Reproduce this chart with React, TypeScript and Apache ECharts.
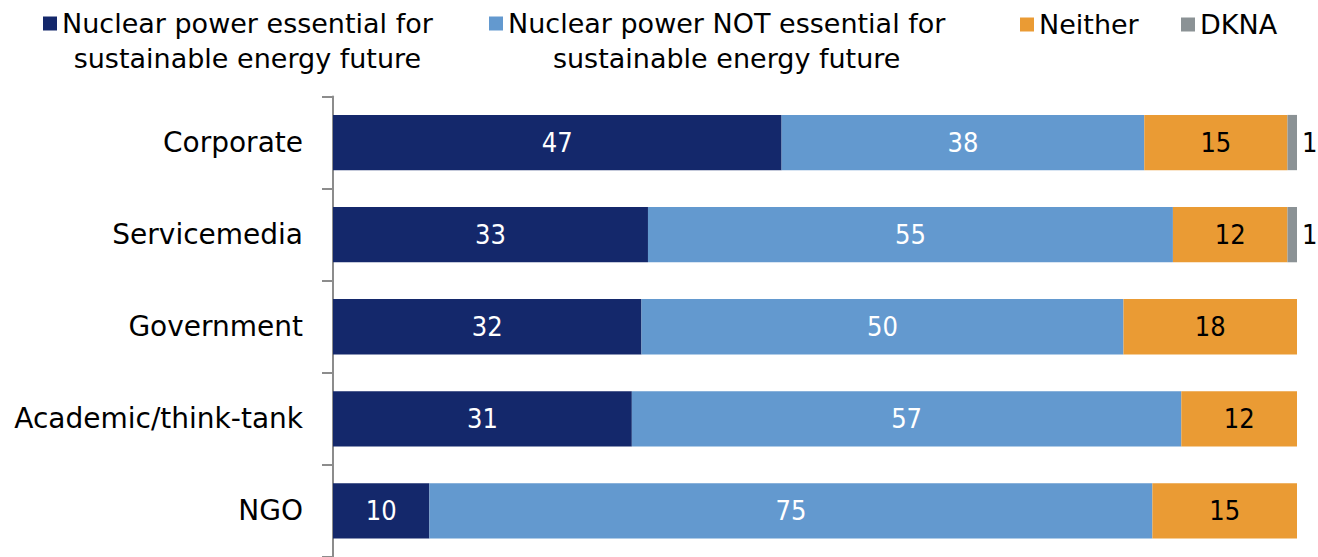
import React, { useEffect, useRef } from "react";
import * as echarts from "echarts";

const categories = ["Corporate", "Servicemedia", "Government", "Academic/think-tank", "NGO"];
const seriesNames = [
  "Nuclear power essential for\nsustainable energy future",
  "Nuclear power NOT essential for\nsustainable energy future",
  "Neither",
  "DKNA",
];
const essential = [47, 33, 32, 31, 10];
const notEssential = [38, 55, 50, 57, 75];
const neither = [15, 12, 18, 12, 15];
const dkna = [1, 1, 0, 0, 0];

const colors = ["#14286B", "#6399CF", "#EA9B34", "#8B9295"];
const FONT = "'DejaVu Sans', sans-serif";
const FONT_C = "'DejaVu Sans Condensed', 'DejaVu Sans', sans-serif";

export default function App() {
  const ref = useRef<HTMLDivElement>(null);
  useEffect(() => {
    document.body.style.margin = "0";
    const chart = echarts.init(ref.current!, null, { renderer: "svg" });
    const raw = [essential, notEssential, neither, dkna];
    const totals = categories.map((_, i) => raw.reduce((s, a) => s + a[i], 0));
    const labelColors = ["#ffffff", "#ffffff", "#000000", "#000000"];
    const series = raw.map((arr, k) => ({
      name: seriesNames[k],
      type: "bar",
      stack: "total",
      barWidth: "60%",
      itemStyle: { color: colors[k] },
      data: arr.map((v, i) => ({ value: (v / totals[i]) * 100, raw: v })),
      label: {
        show: true,
        position: k === 3 ? "right" : "inside",
        distance: 5,
        color: labelColors[k],
        fontFamily: FONT_C,
        fontSize: 27,
        formatter: (p: any) => (p.data.raw > 0 ? String(p.data.raw) : ""),
      },
    }));
    const legendLefts = [43, 489, 1020, 1181];
    const legend = seriesNames.map((n, k) => ({
      data: [n],
      left: legendLefts[k],
      top: k < 2 ? -29 : 7,
      padding: 0,
      itemWidth: 14,
      itemHeight: 14,
      icon: "rect",
      itemGap: 0,
      formatter: (name: string) => {
        const lines = name.split("\n");
        if (lines.length === 1) return `{a|${name}}`;
        return "\n" + lines.map((l) => `{a|${l}}`).join("\n");
      },
      textStyle: {
        fontFamily: FONT,
        fontSize: 27,
        color: "#000",
        lineHeight: 35,
        rich: { a: { align: "center", fontFamily: FONT, fontSize: 27, color: "#000", lineHeight: 35 } },
      },
      selectedMode: false,
    }));
    chart.setOption({
      animation: false,
      legend,
      grid: { left: 333, right: 21, top: 96.5, height: 465, containLabel: false },
      xAxis: {
        type: "value",
        min: 0,
        max: 100,
        show: false,
      },
      yAxis: {
        type: "category",
        data: categories,
        inverse: true,
        axisLine: { show: true, lineStyle: { color: "#8C8C8C", width: 2 } },
        axisTick: { show: true, length: 11, lineStyle: { color: "#8C8C8C", width: 2 } },
        axisLabel: { fontFamily: FONT, fontSize: 28, color: "#000", margin: 30 },
      },
      series,
    });
    return () => chart.dispose();
  }, []);
  return <div ref={ref} style={{ width: 1318, height: 557 }} />;
}
